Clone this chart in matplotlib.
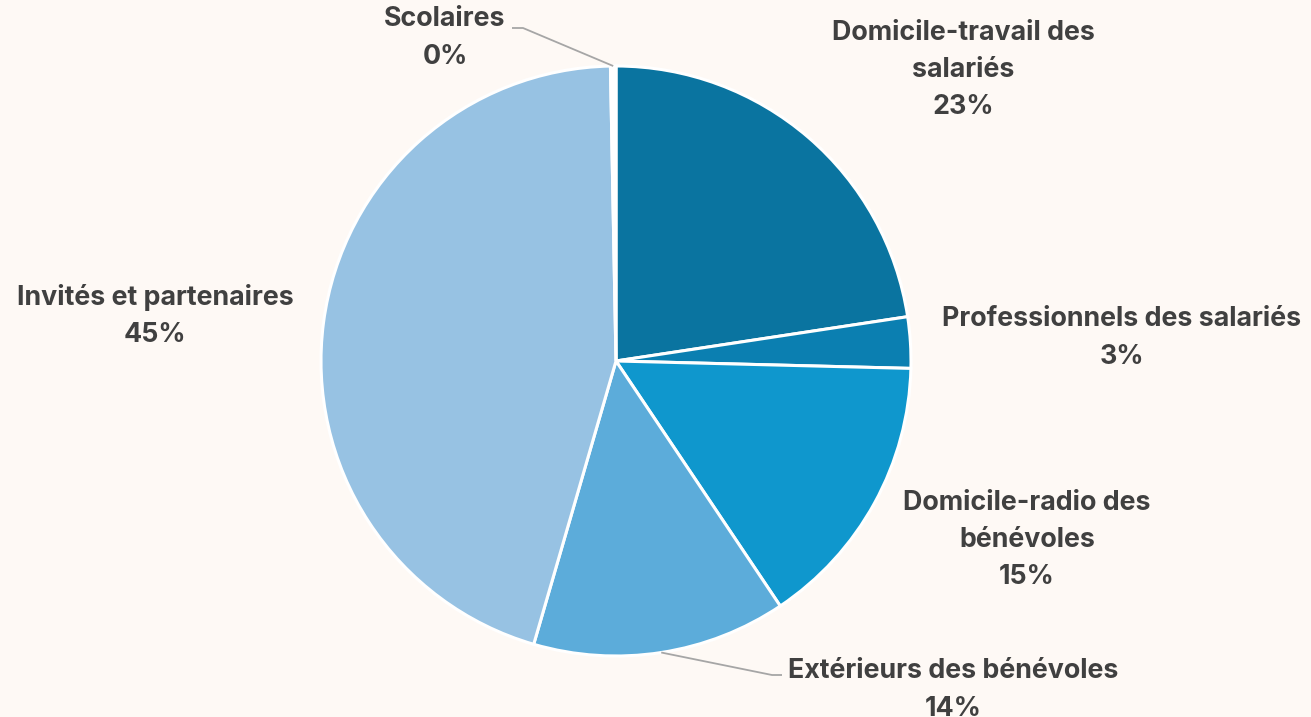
import numpy as np
import matplotlib
matplotlib.use("Agg")
import matplotlib.pyplot as plt

# Share of trips by purpose (percent)
categories = [
    "Domicile-travail des\nsalariés",
    "Professionnels des salariés",
    "Domicile-radio des\nbénévoles",
    "Extérieurs des bénévoles",
    "Invités et partenaires",
    "Scolaires",
]
shares = [22.6, 2.8, 15.2, 13.9, 45.2, 0.3]
colors = ["#0A74A0", "#0B7FB1", "#0F97CD", "#5CACDA", "#97C2E3", "#FFFFFF"]

W, H = 1311, 717
BG = "#FEF9F5"
TEXT = "#404040"
LINE = "#A6A6A6"

fig = plt.figure(figsize=(W / 100, H / 100), dpi=100, facecolor=BG)
ax = fig.add_axes([0, 0, 1, 1])
ax.set_facecolor(BG)

cx, cy, r = 616, H - 361, 295
wedges, _ = ax.pie(
    shares,
    colors=colors,
    startangle=90,
    counterclock=False,
    center=(cx, cy),
    radius=r,
    frame=True,
    wedgeprops=dict(edgecolor="white", linewidth=2.2),
)
ax.set_xlim(0, W)
ax.set_ylim(0, H)
ax.set_aspect("equal")
ax.axis("off")

# label positions (pixel space, top-left origin)
label_pos = [
    (963, 70),
    (1122, 338),
    (1027, 540),
    (953, 690),
    (155, 316),
    (445, 38),
]

font = dict(family=["Inter", "DejaVu Sans"], fontsize=19.3, fontweight="bold",
            color=TEXT, ha="center", va="center", linespacing=1.55)

for name, val, (lx, ly) in zip(categories, shares, label_pos):
    ax.text(lx, H - ly, f"{name}\n{val:.0f}%", **font)


def rim_point(w):
    mid = np.deg2rad((w.theta1 + w.theta2) / 2)
    return cx + r * np.cos(mid), cy + r * np.sin(mid)


# leader for the thin "Scolaires" slice
px, py = rim_point(wedges[5])
ax.plot([512, 523, px], [H - 28, H - 28, py], color=LINE, lw=1.3,
        solid_capstyle="butt")

# leader for "Extérieurs des bénévoles"
px, py = rim_point(wedges[3])
ax.plot([px, 772, 782], [py, H - 675, H - 675], color=LINE, lw=1.3,
        solid_capstyle="butt")

fig.savefig("out.png", dpi=100, facecolor=BG)
